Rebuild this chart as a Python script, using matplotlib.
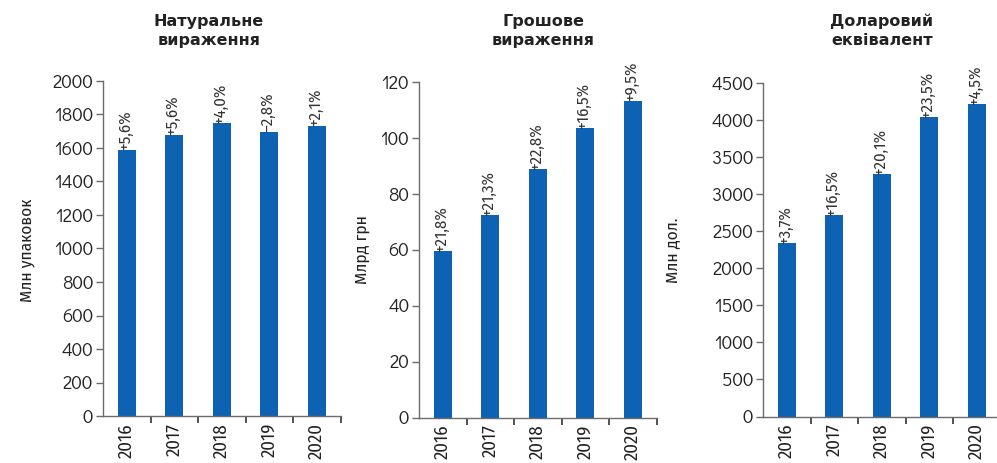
import matplotlib.pyplot as plt
from matplotlib.ticker import FixedLocator

years = ["2016", "2017", "2018", "2019", "2020"]

natural = [1590, 1680, 1747, 1698, 1734]
natural_growth = ["+5,6%", "+5,6%", "+4,0%", "\u20132,8%", "+2,1%"]

money = [59.6, 72.3, 88.8, 103.5, 113.3]
money_growth = ["+21,8%", "+21,3%", "+22,8%", "+16,5%", "+9,5%"]

dollar = [2335, 2720, 3267, 4035, 4217]
dollar_growth = ["+3,7%", "+16,5%", "+20,1%", "+23,5%", "+4,5%"]

titles = ["Натуральне\nвираження", "Грошове\nвираження", "Доларовий\nеквівалент"]
ylabels = ["Млн упаковок", "Млрд грн", "Млн дол."]
ylims = [2000, 120, 4500]
ysteps = [200, 20, 500]

BLUE = "#0d62b3"
AXIS = "#6b6b6b"
TEXT = "#222222"
NARROW = ["Fira Sans Condensed", "DejaVu Sans"]
WIDE = ["Didact Gothic", "DejaVu Sans"]

W, H = 997, 463
fig = plt.figure(figsize=(W / 100, H / 100), dpi=100)

# left edge, top (ymax) and bottom (y=0) of each panel, in pixels
frames = [(103, 81, 416), (419, 82, 417.5), (763, 83, 416.5)]
ylabel_x = [27, 362, 673]
title_x = [209, 543, 882]
series = [(natural, natural_growth), (money, money_growth), (dollar, dollar_growth)]

for i, (vals, growth) in enumerate(series):
    left, top, bottom = frames[i]
    width = 237.5
    ax = fig.add_axes([left / W, (H - bottom) / H, width / W, (bottom - top) / H])
    x = list(range(len(years)))
    ax.bar(x, vals, width=0.38, color=BLUE, zorder=2)
    ax.set_xlim(-0.5, len(years) - 0.5)
    ax.set_ylim(0, ylims[i])

    for sp in ["top", "right"]:
        ax.spines[sp].set_visible(False)
    for sp in ["left", "bottom"]:
        ax.spines[sp].set_color(AXIS)
        ax.spines[sp].set_linewidth(1.0)

    yt = list(range(0, ylims[i] + 1, ysteps[i]))
    ax.set_yticks(yt)
    ax.set_yticklabels([str(v) for v in yt], fontsize=13.5, color=TEXT, family=WIDE)
    ax.tick_params(axis="y", length=5, width=1, color=AXIS, pad=2)

    ax.set_xticks(x)
    ax.set_xticklabels(years, rotation=90, fontsize=13.5, color=TEXT,
                       family=NARROW, va="top")
    ax.tick_params(axis="x", which="major", length=0, pad=5)
    ax.xaxis.set_minor_locator(FixedLocator([k + 0.5 for k in range(len(years))]))
    ax.tick_params(axis="x", which="minor", length=5, width=1.2, color="#333333")

    for xi, v, g in zip(x, vals, growth):
        ax.annotate(g, (xi, v), xytext=(-1, -0.5), textcoords="offset points",
                    rotation=90, ha="center", va="bottom", fontsize=12,
                    color="#333333", family=NARROW, zorder=3)

    fig.text(title_x[i] / W, 1 - 31 / H, titles[i], ha="center", va="center",
             fontsize=11.5, fontweight="bold", color=TEXT, linespacing=1.3,
             family="DejaVu Sans")
    fig.text(ylabel_x[i] / W, 1 - 250 / H, ylabels[i], rotation=90,
             ha="center", va="center", fontsize=12.5, color=TEXT, family=NARROW)

fig.savefig("out.png", dpi=100)
